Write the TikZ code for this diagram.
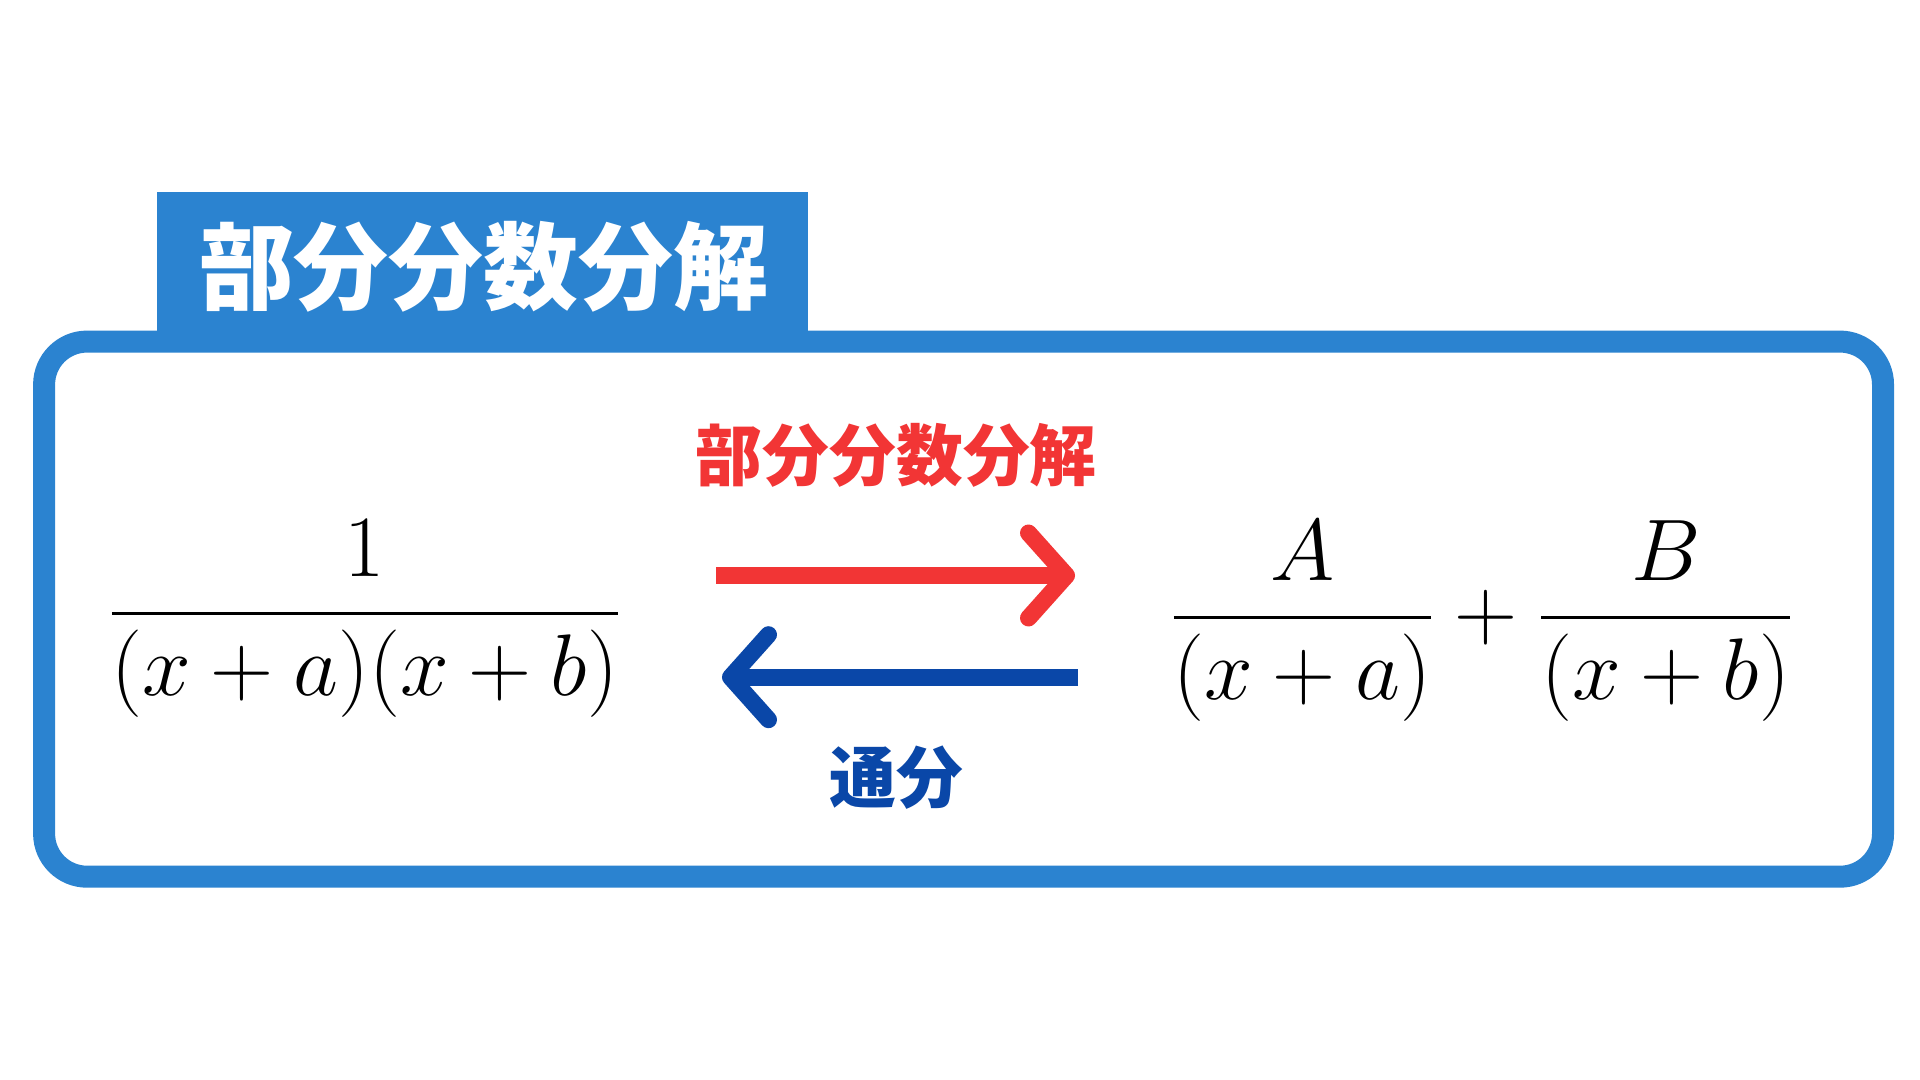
\documentclass[tikz,border=0pt]{standalone}
\usepackage{amsmath}
\usepackage{fontspec}
\newfontfamily\jp{Noto Sans CJK JP}
\usetikzlibrary{arrows.meta}
\definecolor{frameblue}{HTML}{2B83D0}
\definecolor{arrowred}{HTML}{F23535}
\definecolor{arrowblue}{HTML}{0A47A8}
\tikzset{
	jptext/.style={font=\jp\bfseries},
	bigmath/.style={font=\fontsize{25}{30}\selectfont},
	convarrow/.style={line width=0.17cm,
		-{Straight Barb[length=0.38cm,width=0.85cm,line cap=round,line join=round]}},
}

\begin{document}
\begin{tikzpicture}
	\useasboundingbox (0,0) rectangle (19.2,10.8);
	% title tab and frame
	\fill[frameblue] (1.567,7.494) rectangle (8.08,8.878);
	\node[jptext,text=white,font=\jp\bfseries\fontsize{27}{30}\selectfont] (title) at (4.837,8.13) {部分分数分解};
	\draw[frameblue,line width=0.22cm,rounded corners=0.43cm,fill=white] (0.441,2.033) rectangle (18.83,7.384);
	
	% fractions
	\node[bigmath] (lhs) at (3.649,4.616) {$\dfrac{1}{(x+a)(x+b)}$};
	\node[bigmath] (rhs) at (14.82,4.59) {$\dfrac{A}{(x+a)}+\dfrac{B}{(x+b)}$};
	
	% arrows
	\coordinate (rs) at (7.163,5.045);
	\coordinate (re) at (10.75,5.045);
	\coordinate (bs) at (10.78,4.028);
	\coordinate (be) at (7.22,4.028);
	\draw[convarrow,arrowred] (rs) -- (re);
	\draw[convarrow,arrowblue] (bs) -- (be);
	\node[jptext,text=arrowred,font=\jp\bfseries\fontsize{19}{22}\selectfont] (decomp) at (8.963,6.245) {部分分数分解};
	\node[jptext,text=arrowblue,font=\jp\bfseries\fontsize{19}{22}\selectfont] (common) at (8.963,3.024) {通分};
\end{tikzpicture}
\end{document}
